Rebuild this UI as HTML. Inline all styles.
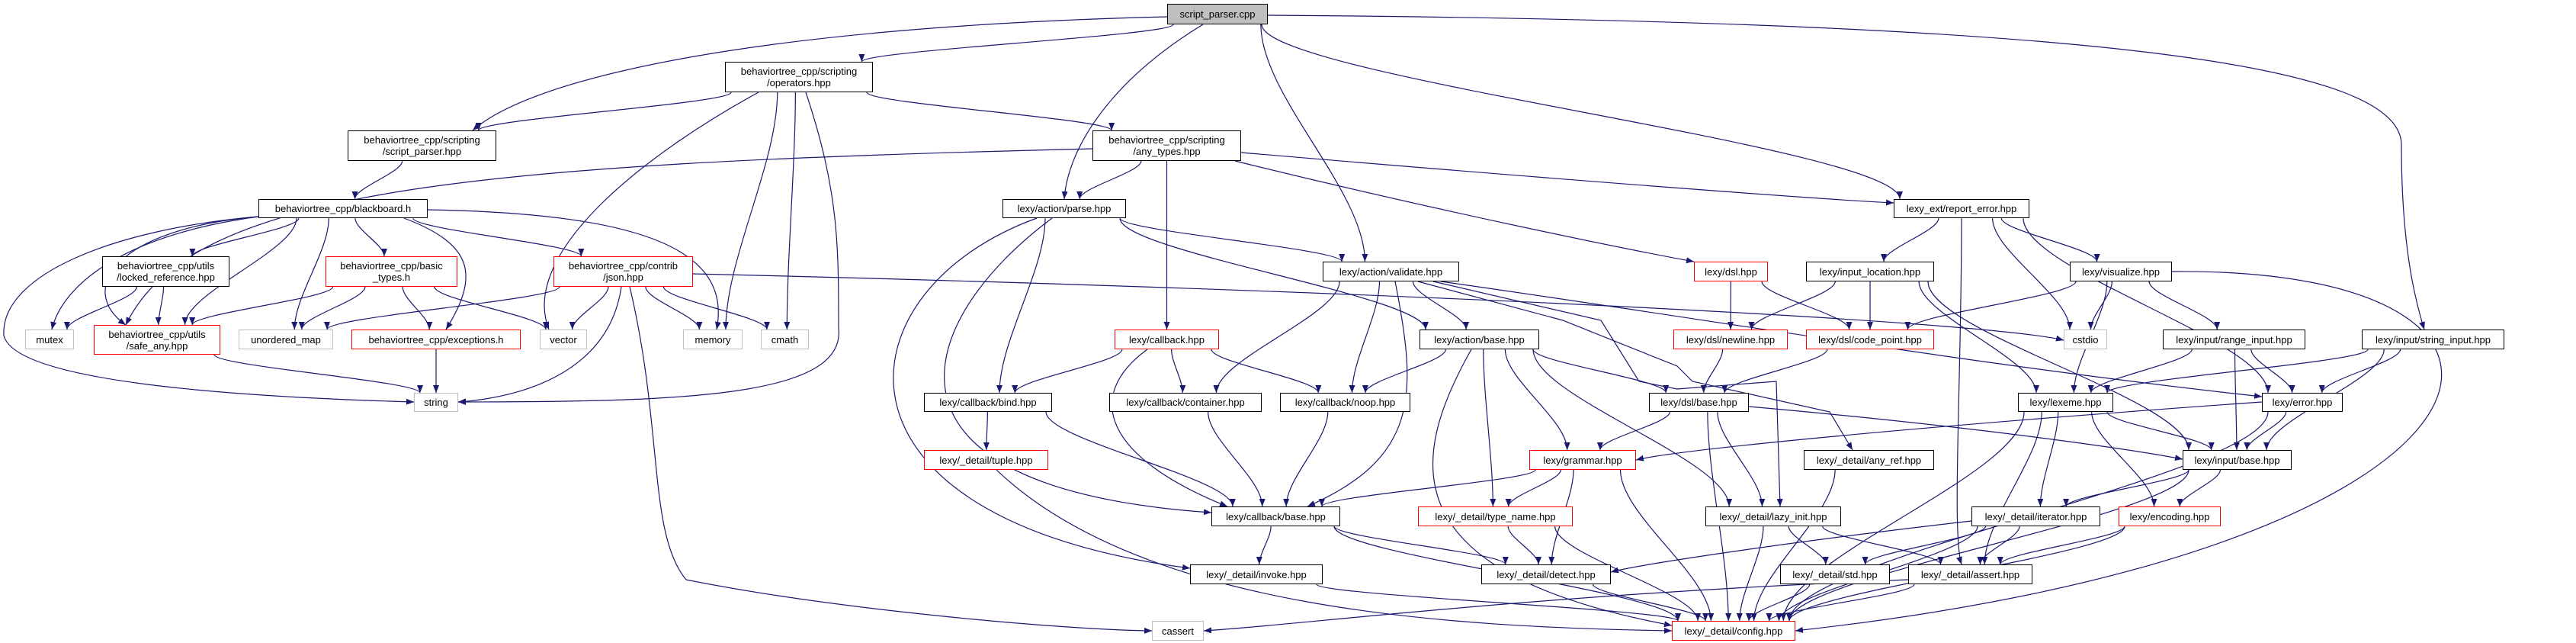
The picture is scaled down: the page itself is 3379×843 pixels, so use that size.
<!DOCTYPE html>
<html><head><meta charset="utf-8">
<style>
html,body{margin:0;padding:0;background:#fff;}
#c{position:relative;width:3379px;height:843px;overflow:hidden;background:#fff;}
.n{position:absolute;box-sizing:border-box;border:1.5px solid #000;background:#fff;font-family:"Liberation Sans",sans-serif;font-size:13px;line-height:15px;color:#000;display:flex;align-items:center;justify-content:center;text-align:center;white-space:nowrap;z-index:2;}
.r{border-color:#ff0000;}
.g{border-color:#bfbfbf;}
.root{background:#bfbfbf;}
svg{position:absolute;left:0;top:0;z-index:1;}
</style></head><body>
<div id="c">
<svg id="s" width="3379" height="843" viewBox="0 0 3379 843">
<defs><marker id="a" viewBox="0 0 10 10" refX="10" refY="5" markerWidth="10" markerHeight="10" markerUnits="userSpaceOnUse" orient="auto"><path d="M0,1 L10,5 L0,9 z" fill="#191970"/></marker></defs>
<g id="e" fill="none" stroke="#191970" stroke-width="1.2"></g>
</svg>
<div class="n root" id="cpp" style="left:1531px;top:5px;width:132px;height:27px">script_parser.cpp</div>
<div class="n" id="ops" style="left:951px;top:81px;width:194px;height:40px">behaviortree_cpp/scripting<br>/operators.hpp</div>
<div class="n" id="sph" style="left:456px;top:171px;width:195px;height:40px">behaviortree_cpp/scripting<br>/script_parser.hpp</div>
<div class="n" id="any" style="left:1433px;top:171px;width:195px;height:40px">behaviortree_cpp/scripting<br>/any_types.hpp</div>
<div class="n" id="bb" style="left:339px;top:261px;width:222px;height:25px">behaviortree_cpp/blackboard.h</div>
<div class="n" id="parse" style="left:1315px;top:261px;width:162px;height:25px">lexy/action/parse.hpp</div>
<div class="n" id="rep" style="left:2484px;top:261px;width:178px;height:25px">lexy_ext/report_error.hpp</div>
<div class="n" id="lock" style="left:134px;top:336px;width:167px;height:40px">behaviortree_cpp/utils<br>/locked_reference.hpp</div>
<div class="n r" id="bt" style="left:427px;top:336px;width:173px;height:40px">behaviortree_cpp/basic<br>_types.h</div>
<div class="n r" id="json" style="left:726px;top:336px;width:183px;height:40px">behaviortree_cpp/contrib<br>/json.hpp</div>
<div class="n" id="val" style="left:1735px;top:343px;width:179px;height:26px">lexy/action/validate.hpp</div>
<div class="n r" id="dsl" style="left:2222px;top:343px;width:97px;height:26px">lexy/dsl.hpp</div>
<div class="n" id="iloc" style="left:2369px;top:343px;width:168px;height:26px">lexy/input_location.hpp</div>
<div class="n" id="vis" style="left:2715px;top:343px;width:134px;height:26px">lexy/visualize.hpp</div>
<div class="n g" id="mutex" style="left:33px;top:432px;width:64px;height:26px">mutex</div>
<div class="n r" id="safe" style="left:123px;top:426px;width:166px;height:39px">behaviortree_cpp/utils<br>/safe_any.hpp</div>
<div class="n g" id="umap" style="left:313px;top:432px;width:124px;height:26px">unordered_map</div>
<div class="n r" id="exc" style="left:461px;top:432px;width:222px;height:26px">behaviortree_cpp/exceptions.h</div>
<div class="n g" id="vec" style="left:708px;top:432px;width:62px;height:26px">vector</div>
<div class="n g" id="mem" style="left:896px;top:432px;width:78px;height:26px">memory</div>
<div class="n g" id="cmath" style="left:998px;top:432px;width:63px;height:26px">cmath</div>
<div class="n r" id="cb" style="left:1462px;top:432px;width:137px;height:26px">lexy/callback.hpp</div>
<div class="n" id="ab" style="left:1862px;top:432px;width:157px;height:26px">lexy/action/base.hpp</div>
<div class="n r" id="nl" style="left:2195px;top:432px;width:150px;height:26px">lexy/dsl/newline.hpp</div>
<div class="n r" id="cp" style="left:2369px;top:432px;width:168px;height:26px">lexy/dsl/code_point.hpp</div>
<div class="n g" id="cstdio" style="left:2707px;top:432px;width:57px;height:26px">cstdio</div>
<div class="n" id="ri" style="left:2837px;top:432px;width:187px;height:26px">lexy/input/range_input.hpp</div>
<div class="n" id="si" style="left:3098px;top:432px;width:187px;height:26px">lexy/input/string_input.hpp</div>
<div class="n g" id="str" style="left:543px;top:515px;width:58px;height:25px">string</div>
<div class="n" id="bind" style="left:1212px;top:515px;width:168px;height:25px">lexy/callback/bind.hpp</div>
<div class="n" id="cont" style="left:1455px;top:515px;width:200px;height:25px">lexy/callback/container.hpp</div>
<div class="n" id="noop" style="left:1679px;top:515px;width:171px;height:25px">lexy/callback/noop.hpp</div>
<div class="n" id="dslb" style="left:2163px;top:515px;width:131px;height:25px">lexy/dsl/base.hpp</div>
<div class="n" id="lex" style="left:2647px;top:515px;width:125px;height:25px">lexy/lexeme.hpp</div>
<div class="n" id="err" style="left:2967px;top:515px;width:106px;height:25px">lexy/error.hpp</div>
<div class="n r" id="tup" style="left:1212px;top:590px;width:163px;height:26px">lexy/_detail/tuple.hpp</div>
<div class="n r" id="gram" style="left:2006px;top:590px;width:140px;height:26px">lexy/grammar.hpp</div>
<div class="n" id="anyref" style="left:2366px;top:590px;width:171px;height:26px">lexy/_detail/any_ref.hpp</div>
<div class="n" id="ib" style="left:2863px;top:590px;width:143px;height:26px">lexy/input/base.hpp</div>
<div class="n" id="cbb" style="left:1589px;top:664px;width:169px;height:26px">lexy/callback/base.hpp</div>
<div class="n r" id="tn" style="left:1860px;top:664px;width:203px;height:26px">lexy/_detail/type_name.hpp</div>
<div class="n" id="lazy" style="left:2237px;top:664px;width:178px;height:26px">lexy/_detail/lazy_init.hpp</div>
<div class="n" id="it" style="left:2586px;top:664px;width:169px;height:26px">lexy/_detail/iterator.hpp</div>
<div class="n r" id="enc" style="left:2779px;top:664px;width:134px;height:26px">lexy/encoding.hpp</div>
<div class="n" id="inv" style="left:1561px;top:740px;width:174px;height:26px">lexy/_detail/invoke.hpp</div>
<div class="n" id="det" style="left:1943px;top:740px;width:170px;height:26px">lexy/_detail/detect.hpp</div>
<div class="n" id="std" style="left:2335px;top:740px;width:144px;height:26px">lexy/_detail/std.hpp</div>
<div class="n" id="as" style="left:2503px;top:740px;width:163px;height:26px">lexy/_detail/assert.hpp</div>
<div class="n g" id="cas" style="left:1511px;top:814px;width:68px;height:26px">cassert</div>
<div class="n r" id="cfg" style="left:2193px;top:814px;width:162px;height:26px">lexy/_detail/config.hpp</div>
</div>
<script>
(function(){
function box(id){var d=document.getElementById(id);return {x:d.offsetLeft,y:d.offsetTop,w:d.offsetWidth,h:d.offsetHeight};}
var E=[
["cpp","sph",[[1531,22],[1000,35],[700,100],[620,171]]],
["cpp","ops"],["cpp","parse",[[1578,32],[1450,110],[1400,200],[1396,261]]],["cpp","val"],["cpp","rep"],
["cpp","si",[[1663,20],[2800,28],[3150,90],[3150,190],[3150,330],[3170,400],[3180,432]]],
["ops","sph"],["ops","any"],["ops","vec",[[995,121],[850,200],[680,330],[720,432]]],["ops","mem"],["ops","cmath"],
["ops","str",[[1057,121],[1100,250],[1100,320],[1100,430],[1110,520],[900,527],[601,527]]],
["sph","bb"],
["any","safe",[[1433,195],[600,215],[250,250],[165,426]]],["any","parse"],["any","cb"],["any","rep",[[1628,200],[2100,240],[2400,262],[2484,266]]],["any","dsl",[[1620,211],[1900,280],[2150,330],[2222,343]]],
["bb","mutex",[[339,284],[150,310],[80,380],[68,432]]],
["bb","str",[[339,284],[150,300],[0,360],[5,440],[20,500],[300,520],[543,527]]],
["bb","lock"],["bb","safe"],["bb","umap"],["bb","bt"],["bb","exc",[[530,286],[620,320],[630,360],[585,432]]],["bb","json"],
["bb","mem",[[561,275],[850,280],[960,330],[940,432]]],
["bb","safe",[[339,284],[150,300],[100,380],[165,426]]],
["lock","mutex"],["lock","safe"],
["bt","safe"],["bt","umap"],["bt","exc"],["bt","vec"],
["json","umap"],["json","vec"],["json","mem"],["json","cmath"],
["json","str",[[815,376],[800,480],[700,520],[601,527]]],
["json","cstdio",[[909,359],[1800,380],[2600,420],[2707,446]]],
["json","cas",[[826,376],[870,560],[850,700],[900,760],[1100,800],[1400,826],[1511,827]]],
["safe","str"],["exc","str"],
["parse","val"],["parse","ab"],["parse","bind"],
["parse","cbb",[[1380,286],[1200,420],[1120,640],[1589,672]]],
["parse","inv",[[1360,286],[1100,380],[1060,680],[1561,745]]],
["val","ab"],["val","cont"],["val","noop"],
["val","cbb",[[1830,369],[1860,520],[1860,600],[1715,664]]],
["val","err",[[1890,369],[2250,420],[2600,480],[2967,520]]],
["val","lazy",[[1880,369],[2100,420],[2150,500],[2200,510],[2330,500],[2335,664]]],
["val","anyref",[[1860,369],[2050,420],[2200,480],[2220,500],[2400,540],[2430,590]]],
["cb","bind"],["cb","cont"],["cb","noop"],["cb","cbb",[[1505,458],[1420,520],[1450,600],[1610,664]]],
["ab","noop"],["ab","dslb"],["ab","gram"],["ab","tn"],["ab","lazy"],
["ab","cfg",[[1930,458],[1850,600],[1820,750],[2193,820]]],
["bind","tup"],["bind","cbb"],
["tup","cfg",[[1307,616],[1500,800],[1900,822],[2193,827]]],
["cont","cbb"],["noop","cbb"],
["gram","cbb"],["gram","tn"],["gram","det"],["gram","cfg"],
["cbb","inv"],["cbb","det"],["cbb","cfg"],
["tn","det"],["tn","cfg"],["inv","cfg"],["det","cfg"],
["rep","iloc"],["rep","vis"],["rep","cstdio"],["rep","err"],["rep","as",[[2573,286],[2573,500],[2560,700],[2573,740]]],
["dsl","nl"],["dsl","cp"],
["iloc","nl"],["iloc","cp"],["iloc","lex"],["iloc","ib"],
["vis","cp"],["vis","cstdio"],["vis","lex"],["vis","ri"],
["vis","cfg",[[2849,356],[3420,350],[3330,720],[2355,827]]],
["nl","dslb"],["cp","dslb"],
["dslb","gram"],["dslb","lazy"],["dslb","cfg"],["dslb","ib",[[2294,533],[2600,560],[2800,590],[2863,602]]],
["ri","lex"],["ri","err"],["ri","ib"],
["si","lex"],["si","err"],["si","ib"],
["lex","ib"],["lex","it"],["lex","enc"],["lex","as"],["lex","cfg"],
["err","gram",[[2967,527],[2500,560],[2200,590],[2146,603]]],["err","ib"],["err","cfg"],
["anyref","cfg"],
["ib","it"],["ib","enc"],["ib","cfg"],
["lazy","std"],["lazy","as"],["lazy","cfg"],
["it","det",[[2586,683],[2350,710],[2150,740],[2113,750]]],["it","std"],["it","as"],["it","cfg"],
["enc","as"],["enc","cfg"],
["std","cfg"],["as","cfg"],
["as","cas",[[2503,760],[2000,780],[1700,820],[1579,827]]]
];
var g=document.getElementById("e"),ns="http://www.w3.org/2000/svg";
function cl(v,a,b){return Math.max(a,Math.min(b,v));}
E.forEach(function(ed){
 var d;
 if(ed[2]){var p=ed[2];
   if(p.length==4){d="M"+p[0]+" C"+p[1]+" "+p[2]+" "+p[3];}
   else{d="M"+p[0]+" C"+p[1]+" "+p[2]+" "+p[3]+" S"+p[4]+" "+p[5]+(p[6]?" L"+p[6]:"");
     if(p.length==7){d="M"+p[0]+" C"+p[1]+" "+p[2]+" "+p[3]+" S"+p[4]+" "+p[5]+" "+p[6];}}
   d=d.replace(/,/g," ").replace(/ (\d+) (\d+)/g," $1,$2");
   var q=ed[2].map(function(x){return x.join(",");});
   if(q.length==4)d="M"+q[0]+" C"+q[1]+" "+q[2]+" "+q[3];
   else if(q.length==7)d="M"+q[0]+" C"+q[1]+" "+q[2]+" "+q[3]+" C"+q[4]+" "+q[5]+" "+q[6];
   else d="M"+q[0]+" L"+q.slice(1).join(" L");
 } else {
  var s=box(ed[0]),t=box(ed[1]);
  var scx=s.x+s.w/2,tcx=t.x+t.w/2;
  var sx=cl(scx+(tcx-scx)*0.25,s.x+8,s.x+s.w-8),sy=s.y+s.h;
  var tx=cl(tcx+(scx-tcx)*0.15,t.x+8,t.x+t.w-8),ty=t.y;
  var dy=(ty-sy);
  d="M"+sx+","+sy+" C"+sx+","+(sy+dy*0.3)+" "+tx+","+(ty-dy*0.3)+" "+tx+","+ty;
 }
 var pa=document.createElementNS(ns,"path");pa.setAttribute("d",d);pa.setAttribute("marker-end","url(#a)");g.appendChild(pa);
});
})();
</script>
</body></html>
